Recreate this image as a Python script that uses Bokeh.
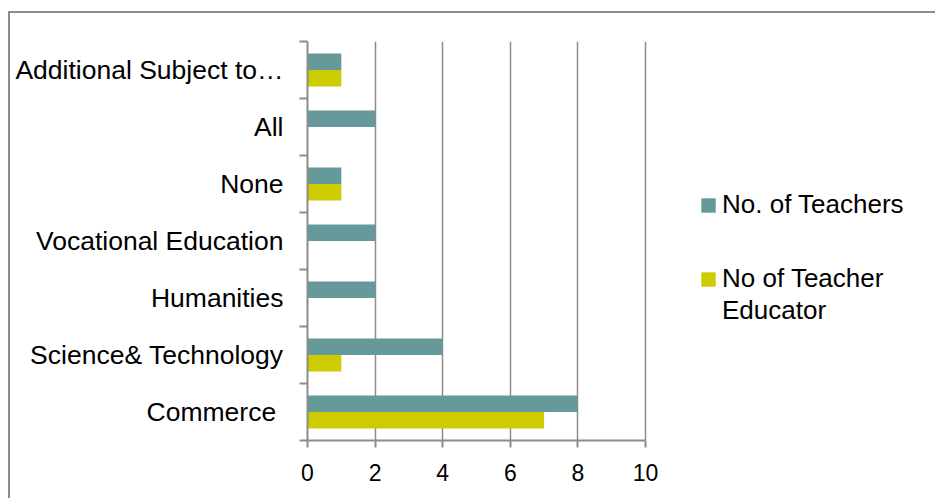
import numpy as np
from bokeh.plotting import figure
from bokeh.models import (ColumnDataSource, FixedTicker, Range1d, Legend,
                          LegendItem, InlineStyleSheet)
from bokeh.transform import dodge
from bokeh.embed import file_html
from bokeh.resources import INLINE

categories = ["Commerce\u00a0", "Science& Technology", "Humanities",
              "Vocational Education", "None", "All", "Additional Subject to…"]
teachers = [8, 4, 2, 2, 1, 2, 1]
teacher_educators = [7, 1, 0, 0, 1, 0, 1]
x_ticks = [0, 2, 4, 6, 8, 10]
series_names = ["No. of Teachers", "No of Teacher", "Educator"]
colors = ["#669999", "#CCCC00"]

pos = list(range(1, len(categories) + 1))
src = ColumnDataSource(dict(y=pos, teachers=teachers, educators=teacher_educators))

GRAY = "#8c8c8c"
FONT = "Liberation Sans"
X_MAX = 10
# frame extends to the right edge so that the legend is not clipped;
# the axis itself is bounded to 0..10 (338 px)
x_end = X_MAX * (935 - 307) / 338.0

p = figure(width=935, height=498, output_backend="svg", toolbar_location=None,
           x_range=Range1d(0, x_end), y_range=Range1d(0.5, len(categories) + 0.5),
           min_border_left=307, min_border_right=0, min_border_top=41,
           min_border_bottom=58)
p.outline_line_color = None
p.background_fill_color = "white"
p.border_fill_color = "white"

r1 = p.hbar(y=dodge("y", 0.145), left=0, right="teachers", height=0.29,
            source=src, fill_color=colors[0], line_color=None)
r2 = p.hbar(y=dodge("y", -0.145), left=0, right="educators", height=0.29,
            source=src, fill_color=colors[1], line_color=None)
# empty renderer, only used for the second line of the legend label
r_blank = p.hbar(y=[], left=[], right=[], height=0.29, fill_alpha=0, line_alpha=0)

# x axis
xa = p.xaxis[0]
xa.ticker = FixedTicker(ticks=x_ticks)
xa.bounds = (0, X_MAX)
xa.axis_line_color = GRAY
xa.axis_line_width = 2
xa.major_tick_line_color = GRAY
xa.major_tick_line_width = 2
xa.major_tick_out = 7
xa.major_tick_in = 0
xa.minor_tick_line_color = None
xa.major_label_text_font = FONT
xa.major_label_text_font_size = "23px"
xa.major_label_text_color = "black"
xa.major_label_standoff = 16

# y axis
ya = p.yaxis[0]
ya.ticker = FixedTicker(ticks=pos, minor_ticks=[i + 0.5 for i in range(len(categories) + 1)])
ya.major_label_overrides = {i: c for i, c in zip(pos, categories)}
ya.axis_line_color = GRAY
ya.axis_line_width = 2
ya.major_tick_line_color = None
ya.major_tick_out = 0
ya.major_tick_in = 0
ya.minor_tick_line_color = GRAY
ya.minor_tick_line_width = 2
ya.minor_tick_out = 8
ya.minor_tick_in = 0
ya.major_label_text_font = FONT
ya.major_label_text_font_size = "26.5px"
ya.major_label_text_color = "black"
ya.major_label_standoff = 16

p.ygrid.visible = False
p.xgrid.ticker = FixedTicker(ticks=x_ticks[1:])
p.xgrid.grid_line_color = GRAY
p.xgrid.grid_line_width = 1.5

legend_style = dict(padding=0, margin=0, border_line_color=None,
                    background_fill_alpha=0, glyph_width=18, glyph_height=18,
                    label_standoff=5, label_text_font=FONT,
                    label_text_font_size="26px", label_text_color="black")
legend_a = Legend(items=[LegendItem(label=series_names[0], renderers=[r1])],
                  location=(392, 220), **legend_style)
legend_b = Legend(items=[LegendItem(label=series_names[1], renderers=[r2]),
                         LegendItem(label=series_names[2], renderers=[r_blank])],
                  location=(392, 114), spacing=1, **legend_style)
p.add_layout(legend_a)
p.add_layout(legend_b)

p.stylesheets = [InlineStyleSheet(css=(
    ":host::after {content: ''; position: absolute; left: 8px; top: 11px; "
    "right: 0; bottom: 0; border-left: 2px solid #8c8c8c; "
    "border-top: 2px solid #8c8c8c; pointer-events: none;}"))]

open("out.html", "w").write(file_html(p, INLINE))
